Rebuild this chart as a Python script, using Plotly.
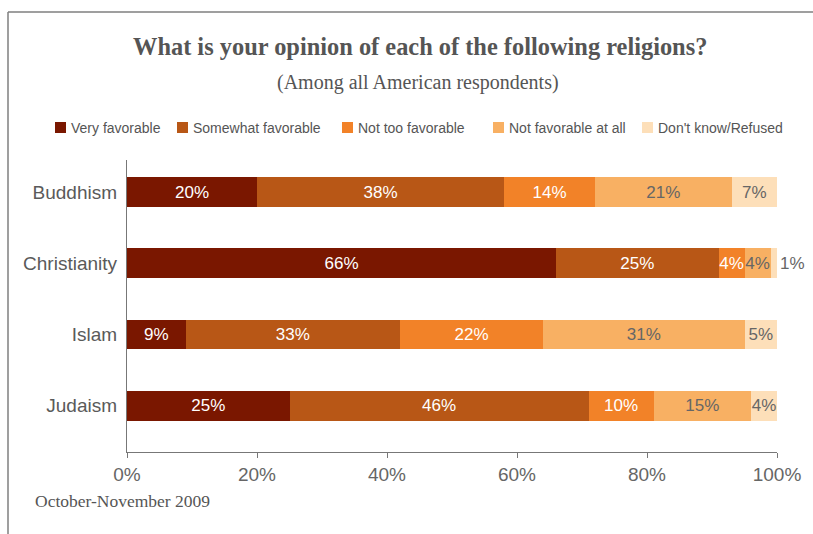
import plotly.graph_objects as go

categories = ["Buddhism", "Christianity", "Islam", "Judaism"]
series_names = ["Very favorable", "Somewhat favorable", "Not too favorable",
                "Not favorable at all", "Don't know/Refused"]
very_favorable = [20, 66, 9, 25]
somewhat_favorable = [38, 25, 33, 46]
not_too_favorable = [14, 4, 22, 10]
not_favorable_at_all = [21, 4, 31, 15]
dont_know = [7, 1, 5, 4]
tick_values = [0, 20, 40, 60, 80, 100]
tick_labels = ["0%", "20%", "40%", "60%", "80%", "100%"]

series_values = [very_favorable, somewhat_favorable, not_too_favorable,
                 not_favorable_at_all, dont_know]
colors = ["#7A1700", "#B85716", "#F28228", "#F8B063", "#FDDFB9"]
text_colors = ["#FFFFFF", "#FFFFFF", "#FFFFFF", "#666666", "#666666"]

W, H = 813, 534
ML, MR, MT, MB = 127, 36, 160, 82
PW, PH = W - ML - MR, H - MT - MB


def px_x(px):
    return (px - ML) / PW


def px_y(py):
    return (H - MB - py) / PH


SANS = "Liberation Sans, Arial, Helvetica, sans-serif"
SERIF = "Liberation Serif, Times New Roman, serif"

fig = go.Figure()
for i, (name, vals) in enumerate(zip(series_names, series_values)):
    positions = ["inside"] * len(vals)
    if i == len(series_names) - 1:
        positions = ["outside" if v <= 2 else "inside" for v in vals]
    fig.add_trace(go.Bar(
        y=categories, x=vals, name=name, orientation="h",
        marker=dict(color=colors[i], line=dict(width=0)),
        text=[f"{v}%" for v in vals],
        textposition=positions,
        insidetextanchor="middle",
        textangle=0,
        constraintext="none",
        cliponaxis=False,
        insidetextfont=dict(family=SANS, size=17, color=text_colors[i]),
        outsidetextfont=dict(family=SANS, size=17, color="#666666"),
        hoverinfo="skip",
        showlegend=False,
    ))

fig.update_layout(
    width=W, height=H,
    margin=dict(l=ML, r=MR, t=MT, b=MB, pad=0),
    barmode="stack",
    bargap=0.58,
    plot_bgcolor="white", paper_bgcolor="white",
    font=dict(family=SANS, color="#555555"),
    xaxis=dict(range=[0, 100], tickvals=tick_values, ticktext=tick_labels,
               showgrid=False, zeroline=False, showline=True,
               linecolor="#777777", linewidth=1.3,
               ticks="outside", ticklen=5, tickcolor="#777777", tickwidth=1.3,
               tickfont=dict(family=SANS, size=19, color="#666666")),
    yaxis=dict(categoryorder="array", categoryarray=categories,
               range=[3.65, -0.45], showgrid=False, zeroline=False,
               showline=True, linecolor="#777777", linewidth=1.3,
               ticks="", ticklabelstandoff=5,
               tickfont=dict(family=SANS, size=19, color="#5a5a5a")),
)

annotations = [
    dict(text="<b>What is your opinion of each of the following religions?</b>",
         x=px_x(420), y=px_y(47), xanchor="center", yanchor="middle",
         font=dict(family=SERIF, size=24.4, color="#555555")),
    dict(text="(Among all American respondents)",
         x=px_x(418), y=px_y(82), xanchor="center", yanchor="middle",
         font=dict(family=SERIF, size=20, color="#555555")),
    dict(text="October-November 2009",
         x=px_x(33), y=px_y(501), xanchor="left", yanchor="middle",
         font=dict(family=SERIF, size=17.5, color="#555555")),
]

shapes = [
    dict(type="line", xref="paper", yref="paper",
         x0=px_x(8), x1=px_x(8), y0=px_y(12), y1=px_y(540),
         line=dict(color="#7f7f7f", width=1.5)),
    dict(type="line", xref="paper", yref="paper",
         x0=px_x(8), x1=px_x(820), y0=px_y(12), y1=px_y(12),
         line=dict(color="#7f7f7f", width=1.5)),
]

legend_square_px = [55, 177, 342, 493, 642]
for name, color, sx in zip(series_names, colors, legend_square_px):
    shapes.append(dict(type="rect", xref="paper", yref="paper",
                       x0=px_x(sx), x1=px_x(sx + 11),
                       y0=px_y(133), y1=px_y(122),
                       fillcolor=color, line=dict(width=0)))
    annotations.append(dict(text=name, x=px_x(sx + 14), y=px_y(127.5),
                            xanchor="left", yanchor="middle",
                            font=dict(family=SANS, size=14, color="#555555")))

for a in annotations:
    a.update(xref="paper", yref="paper", showarrow=False)

fig.update_layout(annotations=annotations, shapes=shapes)
fig.write_html(
    "out.html",
    config={"displayModeBar": False},
    post_script="document.body.style.margin='0';document.body.style.padding='0';"
                "document.body.style.overflow='hidden';",
)
